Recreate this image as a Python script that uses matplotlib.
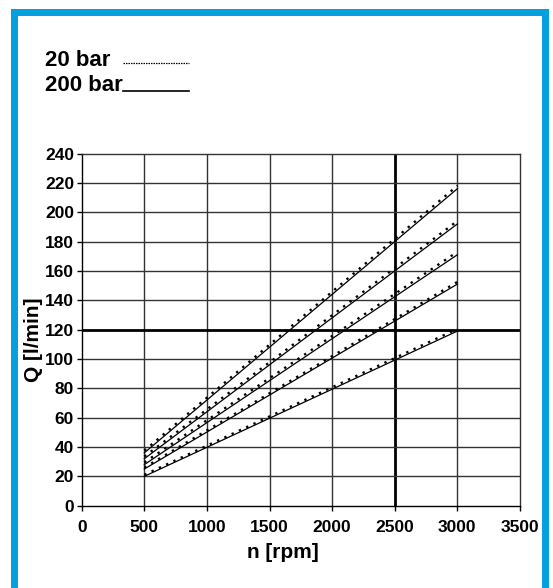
import matplotlib
matplotlib.use("Agg")
import matplotlib.pyplot as plt
from matplotlib.lines import Line2D

# ---- data ----
speed_rpm = [500, 3000]
q_200bar = [[20, 119], [25, 151], [28, 171], [32, 192], [36, 216]]
q_20bar = [[21, 120.5], [26, 152.5], [29.5, 173], [33.5, 194], [37.5, 218]]
x_ticks = [0, 500, 1000, 1500, 2000, 2500, 3000, 3500]
y_ticks = list(range(0, 241, 20))
legend_labels = ["20 bar", "200 bar"]
x_label = "n [rpm]"
y_label = "Q [l/min]"

W, H = 553, 588
fig = plt.figure(figsize=(W / 100, H / 100), dpi=100)
plt.rcParams['font.family'] = ['Liberation Sans', 'DejaVu Sans']

def fx(px):
    return px / W

def fy(py):
    return 1 - py / H

ax_l, ax_r, ax_t, ax_b = 81.7, 520.0, 153.5, 505.7
ax = fig.add_axes([fx(ax_l), fy(ax_b), (ax_r - ax_l) / W, (ax_b - ax_t) / H])
ax.set_xlim(0, 3500)
ax.set_ylim(0, 240)

grid_c = '#333333'
for x in x_ticks[1:-1]:
    thick = (x == 2500)
    ax.axvline(x, color='black' if thick else grid_c, lw=2.0 if thick else 1.0, zorder=1)
for y in y_ticks[1:-1]:
    thick = (y == 120)
    ax.axhline(y, color='black' if thick else grid_c, lw=2.0 if thick else 1.0, zorder=1)

for s in ax.spines.values():
    s.set_color(grid_c)
    s.set_linewidth(1.0)
ax.spines['left'].set_color('black')
ax.spines['bottom'].set_color('black')

for q in q_200bar:
    ax.plot(speed_rpm, q, color='black', lw=0.9, zorder=3)
for q in q_20bar:
    ax.plot(speed_rpm, q, color='black', lw=1.7, linestyle=(0, (1.0, 2.4)), zorder=3)

ax.set_xticks(x_ticks)
ax.set_yticks(y_ticks)
ax.set_xticklabels([str(v) for v in x_ticks], fontsize=12.5, fontweight='bold')
ax.set_yticklabels([str(v) for v in y_ticks], fontsize=12.5, fontweight='bold')
ax.tick_params(axis='both', direction='out', length=3.5, width=1.0, color='black')
ax.tick_params(axis='x', pad=7)
ax.tick_params(axis='y', pad=2)

ax.text(0.459, -0.134, x_label, transform=ax.transAxes, ha='center', va='center',
        fontsize=15, fontweight='bold')
ax.text(-0.111, 0.47, y_label, transform=ax.transAxes, ha='center', va='center',
        rotation=90, fontsize=15, fontweight='bold')

# legend (manual)
fig.text(fx(45), fy(66), legend_labels[0], ha='left', va='baseline', fontsize=16, fontweight='bold')
fig.text(fx(45), fy(91), legend_labels[1], ha='left', va='baseline', fontsize=16, fontweight='bold')
fig.add_artist(Line2D([fx(123), fx(189)], [fy(62.5), fy(62.5)], color='black', lw=0.9,
                      linestyle=(0, (1.2, 0.8)), transform=fig.transFigure))
fig.add_artist(Line2D([fx(123), fx(189)], [fy(90.7), fy(90.7)], color='black', lw=1.2,
                      transform=fig.transFigure))

# blue frame
blue = '#06A0DE'
lw_pt = 7 * 0.72
fig.add_artist(Line2D([fx(14), fx(14), fx(545), fx(545)], [fy(H + 10), fy(11.5), fy(11.5), fy(H + 10)],
                      color=blue, lw=lw_pt, solid_joinstyle='miter', transform=fig.transFigure))

fig.savefig('out.png', dpi=100)
